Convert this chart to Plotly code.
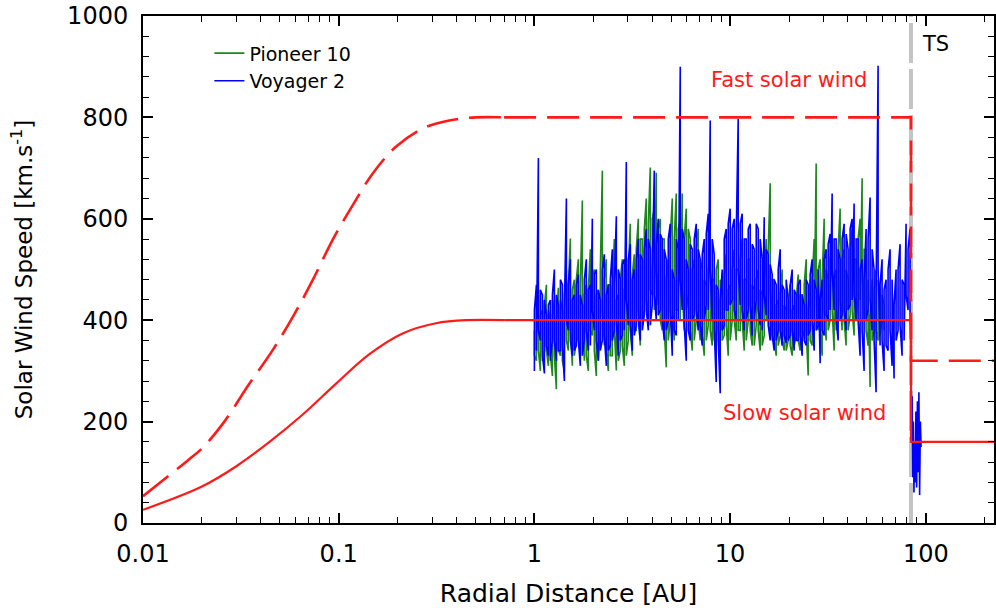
import plotly.graph_objects as go

# ---------------- data ----------------
# radial distance grid of the spacecraft samples [AU]
dist_au = [
    1.000, 1.024, 1.048, 1.073, 1.099, 1.125, 1.152, 1.179, 1.207, 1.236, 1.265,
    1.295, 1.326, 1.358, 1.390, 1.423, 1.457, 1.491, 1.527, 1.563, 1.600,
    1.638, 1.677, 1.717, 1.758, 1.800, 1.842, 1.886, 1.931, 1.977, 2.024,
    2.072, 2.122, 2.172, 2.224, 2.277, 2.331, 2.386, 2.443, 2.501, 2.561,
    2.622, 2.684, 2.748, 2.813, 2.880, 2.949, 3.019, 3.091, 3.164, 3.240,
    3.317, 3.396, 3.476, 3.559, 3.644, 3.730, 3.819, 3.910, 4.003, 4.098,
    4.196, 4.295, 4.398, 4.502, 4.609, 4.719, 4.831, 4.946, 5.064, 5.184,
    5.308, 5.434, 5.563, 5.695, 5.831, 5.970, 6.112, 6.257, 6.406, 6.558,
    6.714, 6.874, 7.038, 7.205, 7.376, 7.552, 7.731, 7.915, 8.104, 8.296,
    8.493, 8.696, 8.903, 9.114, 9.331, 9.553, 9.780, 10.01, 10.25, 10.50,
    10.75, 11.00, 11.26, 11.53, 11.81, 12.09, 12.38, 12.67, 12.97, 13.28,
    13.60, 13.92, 14.25, 14.59, 14.94, 15.29, 15.66, 16.03, 16.41, 16.80,
    17.20, 17.61, 18.03, 18.46, 18.90, 19.35, 19.81, 20.28, 20.76, 21.26,
    21.76, 22.28, 22.81, 23.35, 23.91, 24.48, 25.06, 25.65, 26.26, 26.89,
    27.53, 28.18, 28.85, 29.54, 30.24, 30.96, 31.70, 32.45, 33.22, 34.01,
    34.82, 35.65, 36.50, 37.36, 38.25, 39.16, 40.09, 41.05, 42.02, 43.02,
    44.05, 45.09, 46.17, 47.27, 48.39, 49.54, 50.72, 51.93, 53.16, 54.43,
    55.72, 57.05, 58.40, 59.79, 61.21, 62.67, 64.16, 65.69, 67.25, 68.85,
    70.49, 72.17, 73.88, 75.64, 77.44, 79.28, 81.17, 83.10,
]

# Voyager 2 solar wind speed [km/s]: two samples (a, b) per grid distance
voyager_speed_a = [
    300, 470, 720, 360, 450, 295, 410, 330, 440, 360,
    500, 320, 430, 340, 470, 280, 640, 380, 520, 330,
    450, 350, 490, 310, 430, 360, 520, 340, 470, 600,
    380, 500, 320, 440, 360, 530, 310, 470, 350, 540,
    380, 605, 330, 480, 370, 520, 712, 390, 550, 340,
    500, 390, 560, 360, 520, 410, 580, 380, 540, 430,
    695, 400, 600, 420, 560, 360, 520, 400, 590, 330,
    480, 370, 540, 900, 420, 560, 320, 500, 360, 540,
    410, 590, 380, 520, 350, 560, 430, 610, 794, 400,
    530, 278, 460, 256, 500, 390, 580, 420, 620, 440,
    600, 400, 797, 430, 610, 380, 560, 420, 590, 370,
    540, 440, 580, 390, 520, 603, 410, 530, 360, 490,
    340, 470, 380, 540, 350, 460, 355, 440, 370, 500,
    340, 450, 360, 480, 330, 430, 350, 470, 380, 520,
    340, 460, 390, 315, 480, 370, 540, 400, 570, 650,
    420, 560, 360, 520, 410, 590, 380, 540, 430, 600,
    630, 400, 560, 330, 520, 300, 580, 420, 642, 380,
    500, 258, 902, 350, 520, 300, 480, 340, 540, 310,
    285, 500, 380, 550, 330, 470, 590, 420, 580,
]
voyager_speed_b = [
    420, 340, 380, 460, 330, 440, 350, 430, 320, 450,
    360, 450, 340, 480, 350, 420, 400, 470, 360, 440,
    340, 470, 360, 450, 330, 480, 380, 460, 350, 420,
    490, 360, 460, 340, 500, 370, 450, 340, 480, 360,
    470, 400, 500, 360, 510, 380, 440, 520, 390, 480,
    370, 520, 400, 530, 380, 540, 420, 560, 390, 500,
    450, 550, 410, 570, 400, 540, 380, 560, 420, 500,
    380, 560, 400, 480, 580, 390, 520, 380, 550, 400,
    560, 420, 540, 390, 530, 400, 570, 420, 500, 560,
    380, 470, 360, 440, 380, 560, 420, 590, 430, 580,
    420, 570, 500, 590, 420, 560, 400, 580, 430, 550,
    400, 590, 420, 560, 380, 450, 540, 390, 510, 370,
    480, 360, 500, 380, 470, 370, 480, 360, 470, 380,
    460, 360, 470, 370, 450, 360, 480, 370, 490, 400,
    480, 380, 500, 440, 380, 520, 410, 550, 420, 500,
    560, 400, 540, 400, 560, 420, 570, 420, 580, 440,
    450, 560, 400, 500, 380, 480, 400, 560, 440, 540,
    360, 450, 500, 470, 360, 460, 350, 500, 380, 480,
    430, 360, 500, 390, 480, 360, 450, 540, 420,
]

# Voyager 2 beyond the termination shock
voyager_ts_dist = [84.0, 84.6, 85.2, 85.8, 86.4, 87.0, 87.6, 88.3, 89.0,
                   89.8, 90.6, 91.4, 92.2, 93.0, 93.8, 94.6]
voyager_ts_speed = [340, 180, 250, 90, 200, 60, 160, 80, 220,
                    70, 240, 100, 258, 55, 200, 150]

# Pioneer 10 solar wind speed [km/s]: two samples (a, b) per grid distance
pioneer_speed_a = [
    380, 320, 450, 300, 420, 340, 470, 310, 400, 290,
    440, 264, 464, 330, 420, 300, 500, 340, 561, 310,
    480, 360, 520, 340, 636, 320, 470, 300, 540, 370,
    500, 290, 460, 380, 695, 350, 520, 300, 470, 330,
    560, 301, 450, 340, 520, 310, 480, 360, 590, 330,
    530, 380, 600, 350, 560, 420, 640, 400, 701, 450,
    620, 691, 430, 600, 380, 560, 307, 520, 400, 640,
    360, 650, 420, 600, 650, 380, 620, 450, 560, 340,
    520, 400, 580, 360, 500, 330, 470, 390, 540, 350,
    480, 380, 520, 340, 460, 370, 530, 330, 470, 400,
    540, 360, 500, 380, 560, 340, 480, 400, 520, 350,
    460, 390, 500, 340, 450, 370, 560, 400, 670, 360,
    480, 330, 440, 370, 500, 340, 420, 360, 470, 330,
    430, 370, 490, 340, 450, 380, 520, 291, 480, 350,
    560, 709, 380, 520, 330, 600, 360, 480, 400, 560,
    340, 500, 420, 620, 380, 540, 350, 480, 410, 580,
    370, 520, 440, 600, 680, 400, 540, 350, 268, 480,
    380, 500, 360, 460, 400, 430,
]
pioneer_speed_b = [
    330, 430, 340, 410, 320, 430, 340, 420, 330, 410,
    330, 400, 340, 440, 320, 450, 360, 470, 380, 460,
    330, 480, 360, 470, 400, 450, 330, 460, 380, 490,
    340, 450, 320, 500, 420, 480, 340, 470, 330, 460,
    380, 440, 320, 480, 350, 460, 330, 500, 380, 490,
    380, 540, 420, 560, 400, 580, 440, 590, 460, 600,
    420, 500, 580, 400, 560, 380, 480, 360, 560, 420,
    560, 420, 580, 400, 460, 560, 420, 580, 380, 500,
    360, 540, 400, 520, 370, 480, 360, 500, 380, 480,
    360, 500, 380, 480, 360, 490, 390, 460, 360, 500,
    400, 500, 380, 520, 400, 480, 360, 520, 380, 470,
    350, 480, 380, 460, 350, 480, 400, 540, 460, 480,
    360, 430, 350, 450, 360, 430, 340, 440, 350, 420,
    350, 440, 360, 450, 360, 470, 380, 420, 360, 470,
    400, 480, 500, 380, 480, 420, 500, 380, 520, 420,
    480, 380, 540, 440, 520, 400, 500, 380, 540, 420,
    520, 400, 560, 440, 500, 540, 380, 480, 400, 360,
    460, 380, 480, 370, 450, 380,
]

# model profiles (red): acceleration region then constant, step at TS
ts_distance_au = 84.0
x_max_au = 225.0

slow_curve_dist = [0.01, 0.02, 0.03, 0.0443, 0.0655, 0.097, 0.1435, 0.212, 0.314, 0.45, 0.7]
slow_curve_speed = [26, 72, 112, 160, 214, 275, 333, 374, 394, 400, 400]
slow_step_dist = [0.7, ts_distance_au, ts_distance_au, x_max_au]
slow_step_speed = [400, 400, 160, 160]

fast_curve_dist = [0.01, 0.017, 0.02, 0.0256, 0.035, 0.046, 0.0582, 0.0736, 0.093,
                   0.118, 0.149, 0.196, 0.268, 0.367, 0.5, 0.7]
fast_curve_speed = [53, 124, 147, 196, 275, 341, 406, 479, 558,
                    627, 689, 742, 778, 794, 800, 800]
fast_step_dist = [0.7, ts_distance_au, ts_distance_au, x_max_au]
fast_step_speed = [800, 800, 320, 320]

x_tick_vals = [0.01, 0.1, 1, 10, 100]
x_tick_text = ["0.01", "0.1", "1", "10", "100"]
y_tick_vals = [0, 200, 400, 600, 800, 1000]


def paired(dist, a_vals, b_vals):
    """Two speed samples recorded at each grid distance."""
    n = min(len(dist), len(a_vals), len(b_vals))
    xs, ys = [], []
    for i in range(n):
        xs += [dist[i], dist[i]]
        ys += [a_vals[i], b_vals[i]]
    return xs, ys


# ---------------- figure ----------------
FONT = "DejaVu Sans"
RED = "#ff1a1a"
fig = go.Figure()

# termination shock marker
fig.add_trace(go.Scatter(
    x=[ts_distance_au, ts_distance_au], y=[0, 1000], mode="lines",
    line=dict(color="#c4c4c4", width=4, dash="40px,6px"),
    showlegend=False, hoverinfo="skip"))

px, py = paired(dist_au, pioneer_speed_a, pioneer_speed_b)
fig.add_trace(go.Scatter(
    x=px, y=py, mode="lines",
    name="Pioneer 10", line=dict(color="#1f861f", width=1.6)))

vx, vy = paired(dist_au, voyager_speed_a, voyager_speed_b)
fig.add_trace(go.Scatter(
    x=vx + voyager_ts_dist, y=vy + voyager_ts_speed,
    mode="lines", name="Voyager 2", line=dict(color="#0000ff", width=1.6)))

fig.add_trace(go.Scatter(
    x=slow_curve_dist, y=slow_curve_speed, mode="lines",
    line=dict(color=RED, width=2.2, shape="spline", smoothing=1.0),
    showlegend=False, hoverinfo="skip"))
fig.add_trace(go.Scatter(
    x=slow_step_dist, y=slow_step_speed, mode="lines",
    line=dict(color=RED, width=2.2), showlegend=False, hoverinfo="skip"))
fig.add_trace(go.Scatter(
    x=fast_curve_dist, y=fast_curve_speed, mode="lines",
    line=dict(color=RED, width=2.6, dash="32px,11px", shape="spline", smoothing=1.0),
    showlegend=False, hoverinfo="skip"))
fig.add_trace(go.Scatter(
    x=fast_step_dist, y=fast_step_speed, mode="lines",
    line=dict(color=RED, width=2.6, dash="32px,11px"),
    showlegend=False, hoverinfo="skip"))

minor_x = [m * 10.0 ** k for k in range(-2, 3) for m in range(2, 10)]

fig.update_xaxes(
    type="log", range=[-2, 2.3485],
    tickvals=x_tick_vals, ticktext=x_tick_text,
    ticks="inside", ticklen=10, tickwidth=1.5, tickcolor="black",
    minor=dict(tickvals=minor_x, ticks="inside", ticklen=6, tickwidth=1.2, tickcolor="black"),
    showline=True, linecolor="black", linewidth=2, mirror="ticks",
    showgrid=False, zeroline=False,
    tickfont=dict(family=FONT, size=24, color="black"),
    ticklabelstandoff=8,
    title=dict(text="Radial Distance [AU]", font=dict(family=FONT, size=25, color="black"),
               standoff=22),
)
fig.update_yaxes(
    range=[0, 1000], tickvals=y_tick_vals,
    ticks="inside", ticklen=10, tickwidth=1.5, tickcolor="black",
    minor=dict(dtick=40, ticks="inside", ticklen=6, tickwidth=1.2, tickcolor="black"),
    showline=True, linecolor="black", linewidth=2, mirror="ticks",
    showgrid=False, zeroline=False,
    tickfont=dict(family=FONT, size=24, color="black"),
    ticklabelstandoff=8,
    title=dict(text="Solar Wind Speed [km.s<sup>-1</sup>]",
               font=dict(family=FONT, size=23, color="black"), standoff=28),
)

fig.add_annotation(x=1.303, y=873, xref="x", yref="y", text="Fast solar wind",
                   showarrow=False, font=dict(family=FONT, size=21, color=RED))
fig.add_annotation(x=1.379, y=216, xref="x", yref="y", text="Slow solar wind",
                   showarrow=False, font=dict(family=FONT, size=21, color=RED))
fig.add_annotation(x=1.972, y=944, xref="x", yref="y", text="TS", xanchor="left",
                   showarrow=False, font=dict(family=FONT, size=21, color="black"))

fig.update_layout(
    width=996, height=608,
    margin=dict(l=143, r=0, t=16, b=85),
    plot_bgcolor="white", paper_bgcolor="white",
    legend=dict(x=0.078, y=0.964, xanchor="left", yanchor="top",
                font=dict(family=FONT, size=19, color="black"),
                bgcolor="rgba(0,0,0,0)", borderwidth=0, tracegroupgap=0),
    font=dict(family=FONT),
)

fig.write_html("out.html")
